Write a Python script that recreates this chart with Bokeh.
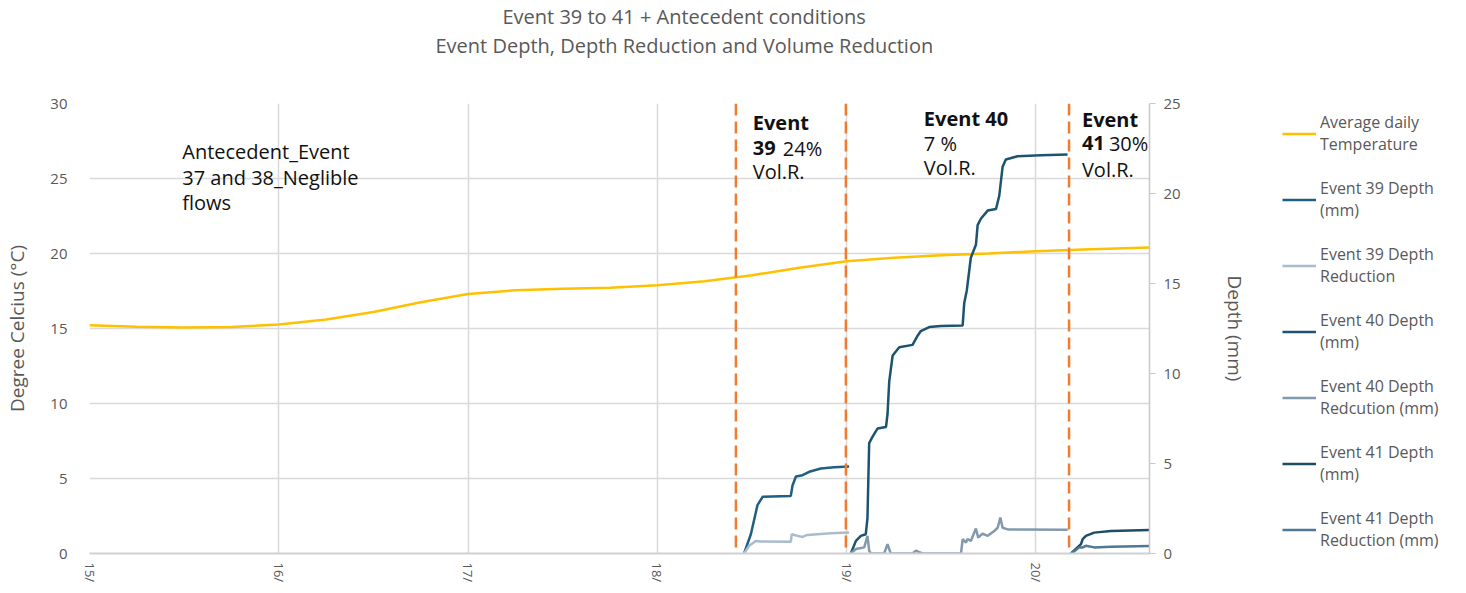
import math
from bokeh.plotting import figure
from bokeh.layouts import row
from bokeh.models import (Range1d, LinearAxis, Span, Label, Legend, LegendItem,
                          FixedTicker, Title)
from bokeh.embed import file_html
from bokeh.resources import INLINE

# ---------------- data ----------------
day_ticks = [15, 16, 17, 18, 19, 20]
day_labels = ["15/", "16/", "17/", "18/", "19/", "20/"]

temp_days = [15.0, 15.25, 15.5, 15.75, 16.0, 16.25, 16.5, 16.75, 17.0, 17.25, 17.5,
             17.75, 18.0, 18.25, 18.5, 18.75, 19.0, 19.25, 19.5, 19.75, 20.0, 20.25, 20.6]
temp_vals = [15.21, 15.12, 15.06, 15.1, 15.27, 15.6, 16.1, 16.75, 17.3, 17.55, 17.65,
             17.72, 17.88, 18.15, 18.55, 19.05, 19.48, 19.72, 19.88, 20.0, 20.15, 20.27, 20.4]

e39_depth_days = [18.458, 18.494, 18.529, 18.556, 18.705, 18.714, 18.732, 18.767,
                  18.802, 18.864, 18.934, 19.013]
e39_depth = [0, 1.07, 2.69, 3.15, 3.2, 3.78, 4.28, 4.35, 4.54, 4.72, 4.79, 4.83]

e39_red_days = [18.458, 18.485, 18.52, 18.547, 18.705, 18.71, 18.74, 18.767, 18.793,
                18.846, 18.916, 19.013]
e39_red = [0, 0.43, 0.7, 0.67, 0.65, 1.07, 0.98, 0.92, 1.03, 1.07, 1.12, 1.16]

e40_depth_days = [19.022, 19.049, 19.075, 19.101, 19.110, 19.119, 19.137, 19.163, 19.208,
                  19.216, 19.225, 19.243, 19.278, 19.348, 19.375, 19.392, 19.436, 19.498,
                  19.613, 19.621, 19.635, 19.656, 19.683, 19.692, 19.709, 19.745, 19.789,
                  19.806, 19.824, 19.841, 19.903, 20.026, 20.167]
e40_depth = [0, 0.7, 0.98, 1.07, 1.97, 6.13, 6.49, 6.94, 7.03, 7.75, 9.56, 11.0, 11.46,
             11.59, 12.1, 12.36, 12.58, 12.64, 12.67, 13.9, 14.63, 16.43, 17.15, 18.24,
             18.6, 19.05, 19.14, 19.86, 21.49, 21.89, 22.07, 22.13, 22.16]

e40_red_days = [19.022, 19.049, 19.093, 19.110, 19.119, 19.128, 19.198, 19.216, 19.233,
                19.348, 19.366, 19.383, 19.403, 19.604, 19.613, 19.630, 19.639, 19.656,
                19.683, 19.695, 19.718, 19.745, 19.780, 19.798, 19.812, 19.824, 19.851,
                20.168]
e40_red = [0, 0.25, 0.34, 0.98, 0.16, 0, 0, 0.52, 0, 0, 0.16, 0.07, 0, 0, 0.8, 0.61,
           0.8, 0.7, 1.39, 0.88, 1.1, 0.98, 1.25, 1.43, 2.0, 1.43, 1.34, 1.32]

e41_depth_days = [20.185, 20.211, 20.238, 20.247, 20.264, 20.308, 20.396, 20.6]
e41_depth = [0, 0.25, 0.52, 0.8, 0.98, 1.16, 1.25, 1.30]

e41_red_days = [20.185, 20.211, 20.228, 20.247, 20.264, 20.308, 20.396, 20.6]
e41_red = [0, 0.2, 0.34, 0.34, 0.43, 0.34, 0.38, 0.42]

event_marks = [18.415, 18.996, 20.175]

series_names = ["Average daily\nTemperature", "Event 39 Depth\n(mm)",
                "Event 39 Depth\nReduction", "Event 40 Depth\n(mm)",
                "Event 40 Depth\nRedcution (mm)", "Event 41 Depth\n(mm)",
                "Event 41 Depth\nReduction (mm)"]

title_lines = ["Event 39 to 41 +  Antecedent conditions",
               "Event Depth, Depth Reduction and Volume Reduction"]

# ---------------- styling ----------------
FONT = "Open Sans"
GREY = "#595959"
series_styles = [("#FFC000", None), ("#1f5f7f", "depth"), ("#a9bccb", "depth"),
                 ("#1c5470", "depth"), ("#8399ad", "depth"), ("#1d4c66", "depth"),
                 ("#4e7894", "depth")]
series_data = [(temp_days, temp_vals), (e39_depth_days, e39_depth), (e39_red_days, e39_red),
               (e40_depth_days, e40_depth), (e40_red_days, e40_red),
               (e41_depth_days, e41_depth), (e41_red_days, e41_red)]

# ---------------- main figure ----------------
p = figure(width=1262, height=585, output_backend="svg", toolbar_location=None,
           x_range=Range1d(15, 20.6), y_range=Range1d(0, 30),
           min_border_left=89, min_border_right=113, min_border_top=102,
           min_border_bottom=20)
p.extra_y_ranges = {"depth": Range1d(0, 25)}
p.outline_line_color = None
p.background_fill_color = "white"
p.border_fill_color = "white"

# title: spacer nearest the plot, then line 2, then line 1
p.add_layout(Title(text=" ", standoff=16, text_font=FONT, text_font_size="20px"), "above")
p.add_layout(Title(text=title_lines[1], align="left", offset=346, standoff=0,
                   text_font=FONT, text_font_size="20px", text_font_style="normal",
                   text_color=GREY), "above")
p.add_layout(Title(text=title_lines[0], align="left", offset=413, standoff=0,
                   text_font=FONT, text_font_size="20px", text_font_style="normal",
                   text_color=GREY), "above")

# x axis
p.xaxis.ticker = FixedTicker(ticks=day_ticks)
p.xaxis.major_label_overrides = {t: l for t, l in zip(day_ticks, day_labels)}
p.xaxis.major_label_orientation = -math.pi / 2
p.xaxis.major_label_text_font = FONT
p.xaxis.major_label_text_font_size = "13px"
p.xaxis.major_label_text_color = GREY
p.xaxis.major_label_standoff = 3
p.xaxis.major_tick_line_color = None
p.xaxis.minor_tick_line_color = None
p.xaxis.axis_line_color = "#d0d0d0"
p.xaxis.axis_line_width = 2

# left axis
p.yaxis.ticker = FixedTicker(ticks=[0, 5, 10, 15, 20, 25, 30])
p.yaxis.axis_label = "Degree Celcius (°C)"
p.yaxis.axis_label_text_font = FONT
p.yaxis.axis_label_text_font_style = "normal"
p.yaxis.axis_label_text_font_size = "19px"
p.yaxis.axis_label_text_color = GREY
p.yaxis.axis_label_standoff = 17
p.yaxis.major_label_text_font = FONT
p.yaxis.major_label_text_font_size = "15px"
p.yaxis.major_label_text_color = GREY
p.yaxis.major_label_standoff = 16
p.yaxis.axis_line_color = None
p.yaxis.major_tick_line_color = None
p.yaxis.minor_tick_line_color = None

# right axis
ax2 = LinearAxis(y_range_name="depth", ticker=FixedTicker(ticks=[0, 5, 10, 15, 20, 25]),
                 axis_label="Depth (mm)")
ax2.axis_label_text_font = FONT
ax2.axis_label_text_font_style = "normal"
ax2.axis_label_text_font_size = "19px"
ax2.axis_label_text_color = GREY
ax2.axis_label_standoff = 38
ax2.major_label_text_font = FONT
ax2.major_label_text_font_size = "15px"
ax2.major_label_text_color = GREY
ax2.major_label_standoff = 8
ax2.axis_line_color = "#c8c8c8"
ax2.axis_line_width = 1.5
ax2.major_tick_line_color = "#c8c8c8"
ax2.major_tick_out = 6
ax2.major_tick_in = 0
ax2.minor_tick_line_color = None
p.add_layout(ax2, "right")

# grids
p.xgrid.ticker = FixedTicker(ticks=day_ticks)
p.xgrid.grid_line_color = "#d9d9d9"
p.xgrid.grid_line_width = 1.5
p.ygrid.grid_line_color = "#d9d9d9"
p.ygrid.grid_line_width = 1.5

# event separators
for d in event_marks:
    p.add_layout(Span(location=d, dimension="height", line_color="#ED7D31",
                      line_width=2.5, line_dash="12 6"))

# series
for (xs, ys), (col, rng) in zip(series_data, series_styles):
    if rng:
        p.line(xs, ys, y_range_name=rng, line_color=col, line_width=2.5)
    else:
        p.line(xs, ys, line_color=col, line_width=2.5)

# annotations inside plot
def note(x, y, text, bold=False, dx=0, size="20px"):
    p.add_layout(Label(x=x, y=y, x_offset=dx, text=text, text_align="left",
                       text_baseline="middle", text_font=FONT, text_font_size=size,
                       text_color="#111111", text_font_style="bold" if bold else "normal"))

note(15.49, 26.81, "Antecedent_Event")
note(15.49, 25.08, "37 and 38_Neglible")
note(15.49, 23.42, "flows")
note(18.504, 28.74, "Event", bold=True)
note(18.504, 27.01, "39", bold=True)
note(18.504, 27.01, "24%", dx=30)
note(18.504, 25.48, "Vol.R.")
note(19.408, 29.0, "Event 40", bold=True)
note(19.408, 27.35, "7 %")
note(19.408, 25.75, "Vol.R.")
note(20.243, 28.94, "Event", bold=True)
note(20.243, 27.35, "41", bold=True)
note(20.243, 27.35, "30%", dx=27)
note(20.243, 25.62, "Vol.R.")

# ---------------- legend panel (separate figure to the right) ----------------
pl = figure(width=188, height=585, output_backend="svg", toolbar_location=None,
            x_range=Range1d(0, 1), y_range=Range1d(0, 1),
            x_axis_type=None, y_axis_type=None, min_border=0)
pl.outline_line_color = None
pl.xgrid.visible = False
pl.ygrid.visible = False
pl.extra_y_ranges = {"depth": Range1d(0, 1)}
leg_renderers = []
for (xs, ys), (col, rng) in zip(series_data, series_styles):
    if rng:
        leg_renderers.append(pl.line(xs, ys, y_range_name=rng, line_color=col, line_width=2.5))
    else:
        leg_renderers.append(pl.line(xs, ys, line_color=col, line_width=2.5))

legend = Legend(items=[LegendItem(label=n, renderers=[r]) for n, r in zip(series_names, leg_renderers)],
                location=(20, 2), padding=0, margin=0, spacing=22,
                glyph_width=34, glyph_height=21, label_standoff=4,
                border_line_color=None, background_fill_alpha=0)
legend.label_text_font = FONT
legend.label_text_font_size = "16px"
legend.label_text_color = GREY
legend.label_text_line_height = 1.3
pl.add_layout(legend, "center")

layout = row(p, pl, spacing=0)
open("out.html", "w").write(file_html(layout, INLINE))
